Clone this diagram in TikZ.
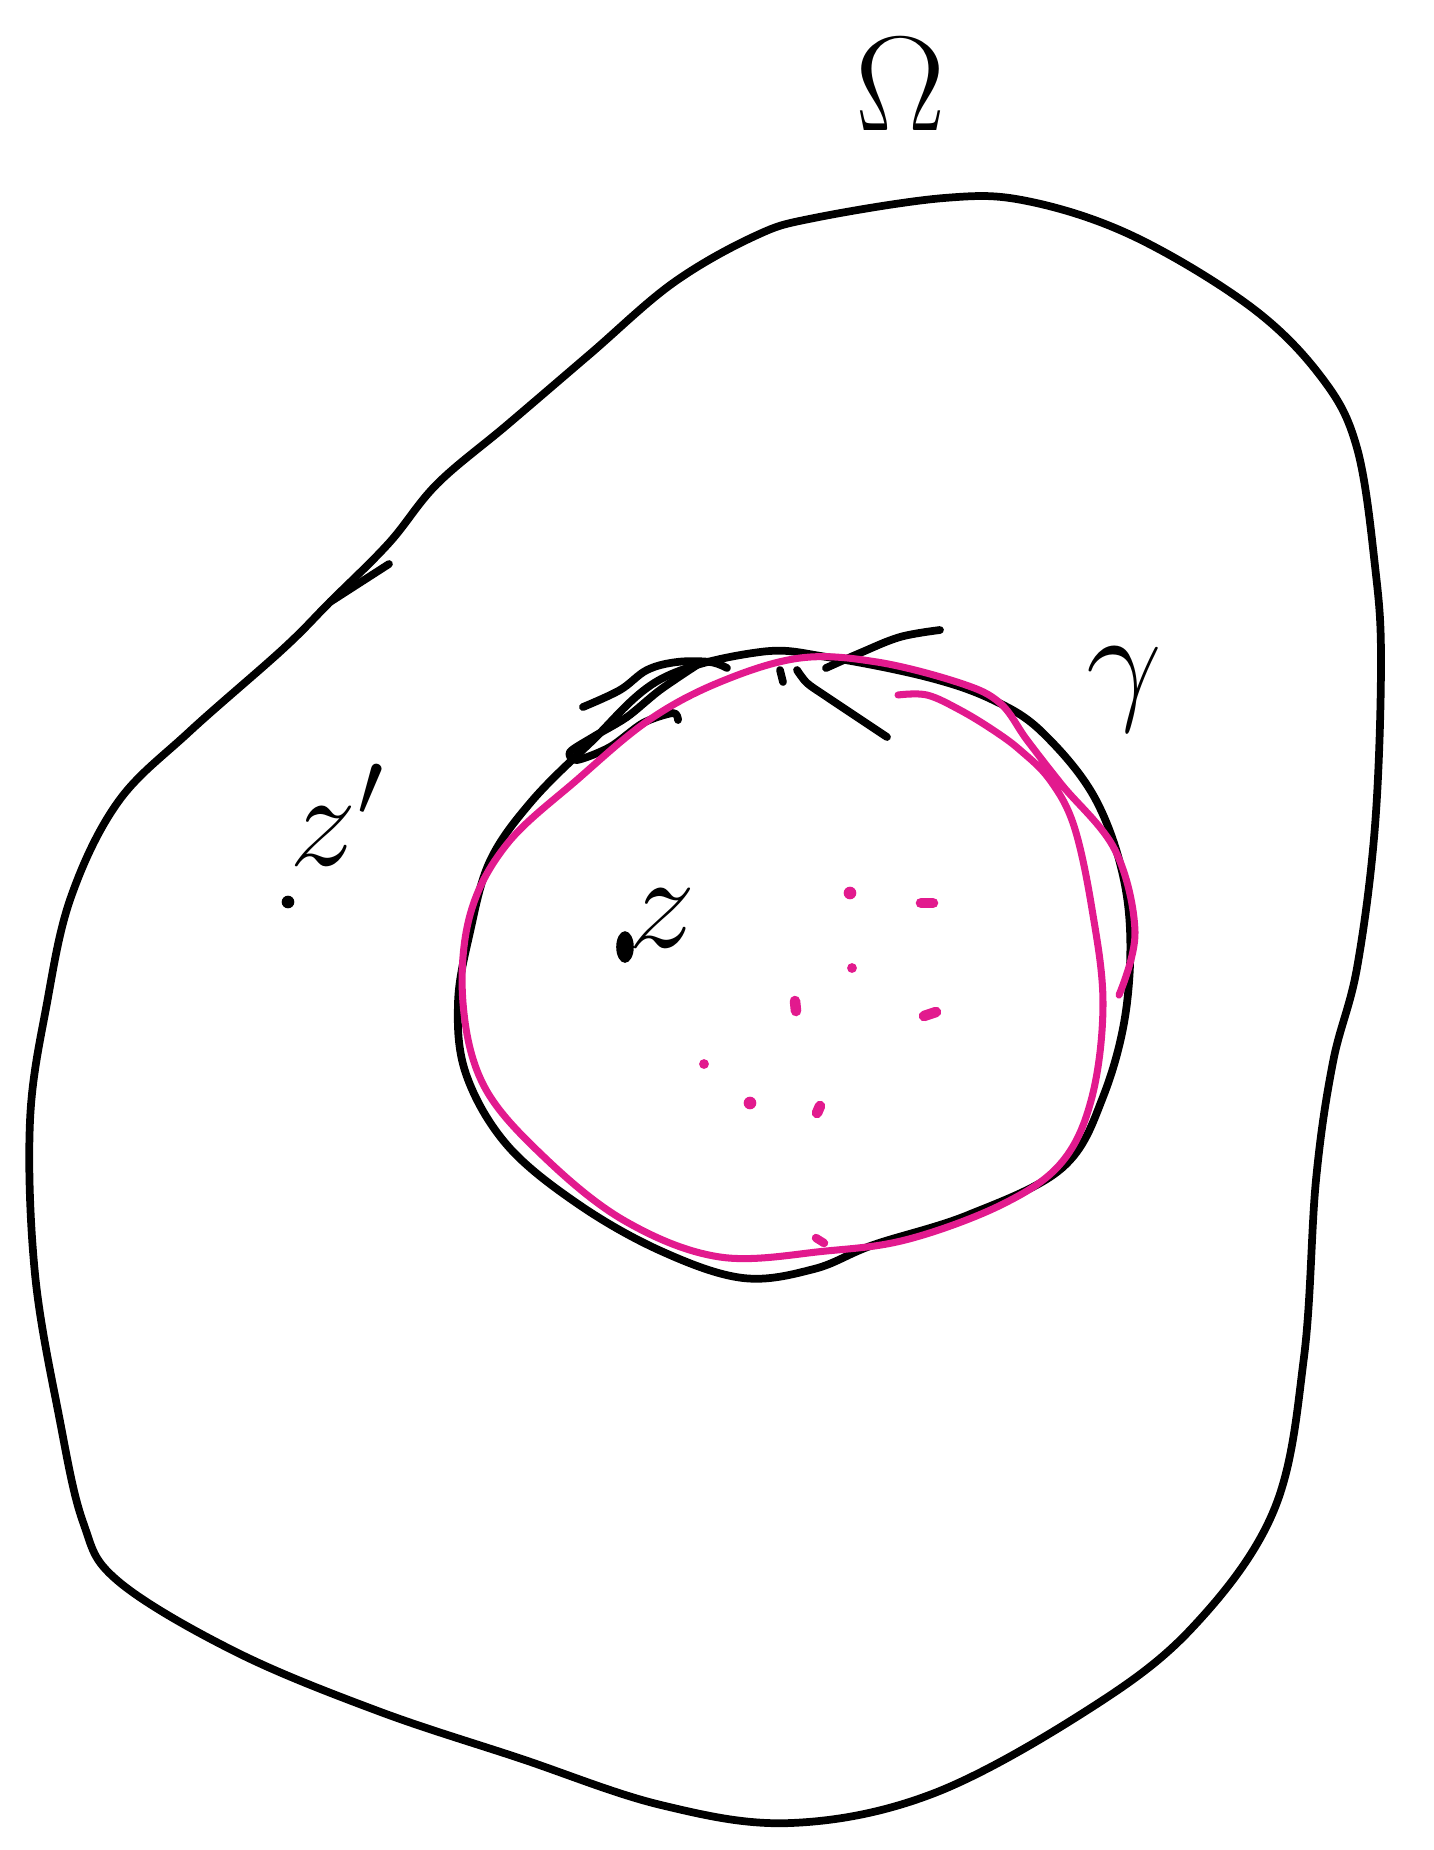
\documentclass[tikz,border=0pt]{standalone}
\usepackage{amsmath}
\usepackage{graphicx}
\definecolor{sketchpink}{RGB}{226,26,142}
\newcommand{\biglbl}[1]{\scalebox{1.85}{\huge$#1$}}
\begin{document}
\begin{tikzpicture}[x=0.01cm, y=-0.01cm,
    pen/.style={black, line width=2.2pt, line cap=round, line join=round},
    pinkpen/.style={sketchpink, line width=2pt, line cap=round, line join=round},
    lbl/.style={inner sep=0pt}]
    \useasboundingbox (0,0) rectangle (1434,1850);

    % Outer domain
    \draw[pen] plot[smooth cycle, tension=0.6] coordinates {
        (944,198) (1027,201) (1133,236) (1251,307) (1322,378) (1357,448)
        (1375,566) (1381,661) (1375,826) (1357,968) (1333,1062) (1316,1180)
        (1304,1357) (1274,1510) (1192,1628) (1086,1711) (932,1794) (791,1823)
        (661,1805) (519,1758) (378,1711) (236,1652) (118,1581) (83,1522)
        (59,1416) (35,1274) (30,1121) (47,1003) (71,897) (118,802)
        (189,732) (283,649) (330,602) (389,543) (437,484) (507,425)
        (590,354) (673,283) (755,236) (814,218)};
    \draw[pen] (330,602) -- (389,564);
    \node[lbl] (omega) at (901,84) {\biglbl{\Omega}};

    % Inner disc (black)
    \draw[pen] plot[smooth cycle, tension=0.6] coordinates {
        (760,652) (827,657) (927,677) (993,700) (1043,733) (1097,802) (1127,897)
        (1127,1003) (1103,1097) (1062,1168) (968,1215) (873,1245) (814,1269)
        (743,1278) (661,1251) (578,1204) (507,1145) (466,1074) (458,1003)
        (470,932) (490,861) (531,802) (590,743) (661,679)};

    % Orientation strokes on top of the disc
    \draw[pen] plot[smooth, tension=0.6] coordinates {
        (583,707) (620,690) (647,670) (677,662) (710,662) (727,668)};
    \draw[pen] plot[smooth, tension=0.5] coordinates {
        (678,720) (673,713) (643,723) (610,747) (577,760) (570,752)
        (593,737) (627,717) (660,690) (700,663)};
    \draw[pen] (780,670) -- (783,682);
    \draw[pen] plot[smooth, tension=0.5] coordinates {
        (797,670) (807,683) (827,697) (887,737)};
    \draw[pen] plot[smooth, tension=0.6] coordinates {
        (826,668) (860,653) (900,637) (940,630)};

    % Curve gamma (pink)
    \draw[pinkpen] plot[smooth, tension=0.6] coordinates {
        (898,695) (927,695) (960,710) (993,730) (1020,750) (1050,780)
        (1074,826) (1092,909) (1103,1003)
        (1092,1097) (1062,1162) (1003,1204) (909,1239) (826,1251) (720,1257)
        (625,1221) (543,1156) (484,1086) (463,1003) (470,915) (507,844)
        (578,779) (649,720) (720,682) (800,658) (877,662) (960,683)
        (1000,703) (1027,740) (1062,785) (1115,850) (1135,932) (1119,995)};
    \node[lbl] (gamma) at (1124,690) {\biglbl{\gamma}};

    % Pink marks inside the disc
    \fill[sketchpink] (850,893) circle (1.8pt);
    \draw[pinkpen, line width=3pt] (921,903) -- (933,903);
    \fill[sketchpink] (852,968) circle (1.4pt);
    \draw[pinkpen, line width=3pt] (795,1001) -- (796,1011);
    \draw[pinkpen, line width=3pt] (924,1016) -- (936,1012);
    \fill[sketchpink] (704,1064) circle (1.4pt);
    \fill[sketchpink] (750,1103) circle (1.8pt);
    \draw[pinkpen, line width=3pt] (817,1113) -- (820,1106);
    \draw[pinkpen, line width=2.4pt] (816,1238) -- (824,1243);

    % Points z and z'
    \fill (625,947) ellipse (2.5pt and 4.5pt);
    \node[lbl] (z) at (662,918) {\biglbl{z}};
    \fill (288,902) circle (1.8pt);
    \node[lbl] (zprime) at (338,815) {\biglbl{z'}};
\end{tikzpicture}
\end{document}
